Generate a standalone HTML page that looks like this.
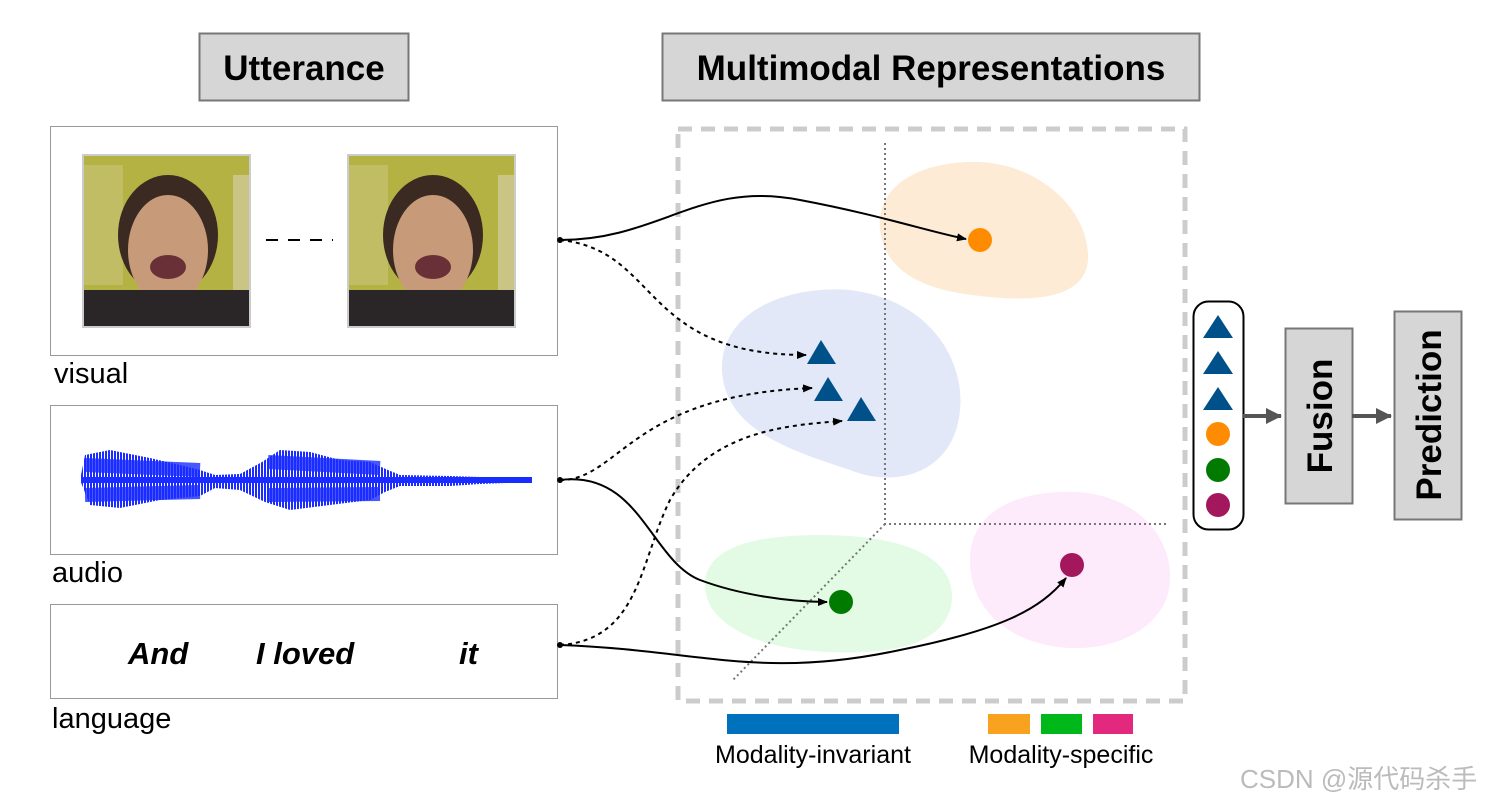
<!DOCTYPE html>
<html><head><meta charset="utf-8"><style>
html,body{margin:0;padding:0;background:#fff;}
svg{display:block;font-family:"Liberation Sans","Noto Sans CJK SC",sans-serif;}
</style></head><body>
<svg width="1503" height="807" viewBox="0 0 1503 807" xmlns="http://www.w3.org/2000/svg">
<defs>
<marker id="ah" markerWidth="10" markerHeight="8" refX="9" refY="4" orient="auto" markerUnits="userSpaceOnUse"><path d="M0,0 L10,4 L0,8 z" fill="#000"/></marker>
<marker id="gh" markerWidth="16" markerHeight="16" refX="15" refY="8" orient="auto" markerUnits="userSpaceOnUse"><path d="M0,0 L16,8 L0,16 z" fill="#555"/></marker>
<pattern id="wv" width="3" height="10" patternUnits="userSpaceOnUse"><rect width="2" height="10" fill="#1a2cff"/></pattern>
<g id="face">
<rect x="0" y="0" width="167" height="172" fill="#b5b244"/>
<rect x="0" y="10" width="40" height="120" fill="#c8c47a" opacity="0.6"/>
<rect x="150" y="20" width="17" height="120" fill="#d8d0b0" opacity="0.6"/>
<ellipse cx="85" cy="80" rx="50" ry="60" fill="#3a2a22"/>
<ellipse cx="85" cy="95" rx="40" ry="55" fill="#c79a7a"/>
<rect x="0" y="135" width="167" height="37" fill="#2a2628"/>
<ellipse cx="85" cy="112" rx="18" ry="12" fill="#6a3038"/>
</g>
</defs>
<!-- title boxes -->
<rect x="199.5" y="33.5" width="209" height="67" fill="#d6d6d6" stroke="#777" stroke-width="2"/>
<text x="304" y="80" font-size="35" font-weight="bold" text-anchor="middle" fill="#000">Utterance</text>
<rect x="662.5" y="33.5" width="537" height="67" fill="#d6d6d6" stroke="#777" stroke-width="2"/>
<text x="931" y="80" font-size="35" font-weight="bold" text-anchor="middle" fill="#000">Multimodal Representations</text>
<!-- visual panel -->
<rect x="50.5" y="126.5" width="507" height="229" fill="#fff" stroke="#999"/>
<use href="#face" x="83" y="155"/>
<use href="#face" x="348" y="155"/>
<rect x="83" y="155" width="167" height="172" fill="none" stroke="#ccc" stroke-width="2"/>
<rect x="348" y="155" width="167" height="172" fill="none" stroke="#ccc" stroke-width="2"/>
<path d="M266 240H333" stroke="#000" stroke-width="2" stroke-dasharray="12 10"/>
<text x="54" y="383" font-size="29">visual</text>
<!-- audio -->
<rect x="50.5" y="405.5" width="507" height="149" fill="#fff" stroke="#999"/>
<path d="M80 480 L85 455 L110 450 L150 458 L180 465 L200 470 L215 475 L240 474 L262 462 L280 450 L310 452 L340 460 L370 462 L388 470 L400 475 L450 476 L480 477 L532 478 L532 482 L480 484 L450 486 L400 486 L385 492 L370 500 L330 505 L290 510 L265 502 L240 490 L215 488 L200 496 L160 500 L120 508 L90 505 Z" fill="url(#wv)"/>
<path d="M82 480 L532 480" stroke="#1a2cff" stroke-width="6"/>
<path d="M85 465 L200 470 M85 495 L200 492 M268 462 L380 468 M268 495 L380 494" stroke="#1a2cff" stroke-width="14" opacity="0.8"/>
<text x="52" y="582" font-size="29">audio</text>
<!-- language -->
<rect x="50.5" y="604.5" width="507" height="94" fill="#fff" stroke="#999"/>
<text y="664" font-size="31" font-weight="bold" font-style="italic"><tspan x="128">And</tspan><tspan x="256">I loved</tspan><tspan x="459">it</tspan></text>
<text x="52" y="728" font-size="29">language</text>
<!-- dashed box -->
<rect x="678" y="129" width="507" height="572" fill="none" stroke="#ccc" stroke-width="5" stroke-dasharray="14 9"/>
<!-- blobs -->
<path d="M880 230 C875 180 930 160 980 162 C1040 165 1090 210 1088 260 C1085 300 1030 302 980 296 C920 290 885 270 880 230Z" fill="#fdebd6"/>
<path d="M722 370 C720 310 790 285 850 290 C930 300 965 360 960 410 C955 470 900 490 850 470 C790 450 725 430 722 370Z" fill="#e2e8f7"/>
<path d="M705 585 C705 545 760 535 820 535 C900 535 955 555 952 600 C948 645 890 655 830 652 C760 650 705 625 705 585Z" fill="#e3fbe5"/>
<path d="M970 560 C970 510 1020 490 1075 492 C1140 495 1172 540 1170 580 C1168 625 1120 650 1070 648 C1010 645 970 610 970 560Z" fill="#fdeafa"/>
<!-- dotted axes -->
<g stroke="#777" stroke-width="2" stroke-dasharray="2 3" fill="none">
<path d="M885 143V524H1168"/><path d="M885 524L733 680"/>
</g>
<!-- curves -->
<g fill="none" stroke="#000" stroke-width="2">
<path d="M560 240 C660 240 700 180 800 200 C880 215 930 232 966 239" marker-end="url(#ah)"/>
<path d="M560 240 C660 250 640 355 806 355" stroke-dasharray="4 4" marker-end="url(#ah)"/>
<path d="M560 480 C620 480 630 395 812 388" stroke-dasharray="4 4" marker-end="url(#ah)"/>
<path d="M560 480 C640 470 650 560 700 580 C740 595 790 602 827 602" marker-end="url(#ah)"/>
<path d="M560 645 C640 640 640 560 670 500 C710 430 790 425 842 421" stroke-dasharray="4 4" marker-end="url(#ah)"/>
<path d="M560 645 C700 650 760 680 900 650 C1000 630 1040 610 1066 578" marker-end="url(#ah)"/>
</g>
<circle cx="560" cy="240" r="3"/><circle cx="560" cy="480" r="3"/><circle cx="560" cy="645" r="3"/>
<!-- points -->
<circle cx="980" cy="240" r="12" fill="#ff8c00"/>
<g fill="#00508a">
<path d="M807 364L821 340L836 364Z"/><path d="M814 401L828 377L843 401Z"/><path d="M847 421L861 397L876 421Z"/>
</g>
<circle cx="841" cy="602" r="12" fill="#007a00"/>
<circle cx="1072" cy="565" r="12" fill="#a3185d"/>
<!-- stack -->
<rect x="1193.5" y="301.5" width="50" height="228" rx="15" fill="#fff" stroke="#000" stroke-width="2"/>
<g fill="#00508a">
<path d="M1203 338L1218 315L1233 338Z"/><path d="M1203 374L1218 351L1233 374Z"/><path d="M1203 410L1218 387L1233 410Z"/>
</g>
<circle cx="1218" cy="434" r="12" fill="#ff8c00"/>
<circle cx="1218" cy="470" r="12" fill="#007a00"/>
<circle cx="1218" cy="505" r="12" fill="#a3185d"/>
<path d="M1243 416H1281" stroke="#555" stroke-width="4" marker-end="url(#gh)"/>
<rect x="1285.5" y="328.5" width="67" height="175" fill="#d6d6d6" stroke="#777" stroke-width="2"/>
<text transform="translate(1332 416) rotate(-90)" font-size="35" font-weight="bold" text-anchor="middle">Fusion</text>
<path d="M1352 416H1391" stroke="#555" stroke-width="4" marker-end="url(#gh)"/>
<rect x="1394.5" y="311.5" width="67" height="208" fill="#d6d6d6" stroke="#777" stroke-width="2"/>
<text transform="translate(1441 415) rotate(-90)" font-size="35" font-weight="bold" text-anchor="middle">Prediction</text>
<!-- legend -->
<rect x="727" y="714" width="172" height="20" fill="#0072bd"/>
<text x="813" y="763" font-size="25" text-anchor="middle">Modality-invariant</text>
<rect x="988" y="714" width="42" height="20" fill="#f9a21f"/>
<rect x="1041" y="714" width="41" height="20" fill="#00b81a"/>
<rect x="1093" y="714" width="40" height="20" fill="#e3297e"/>
<text x="1061" y="763" font-size="25" text-anchor="middle">Modality-specific</text>
<text x="1240" y="788" font-size="26" fill="#bbb">CSDN @源代码杀手</text>
</svg>
</body></html>
